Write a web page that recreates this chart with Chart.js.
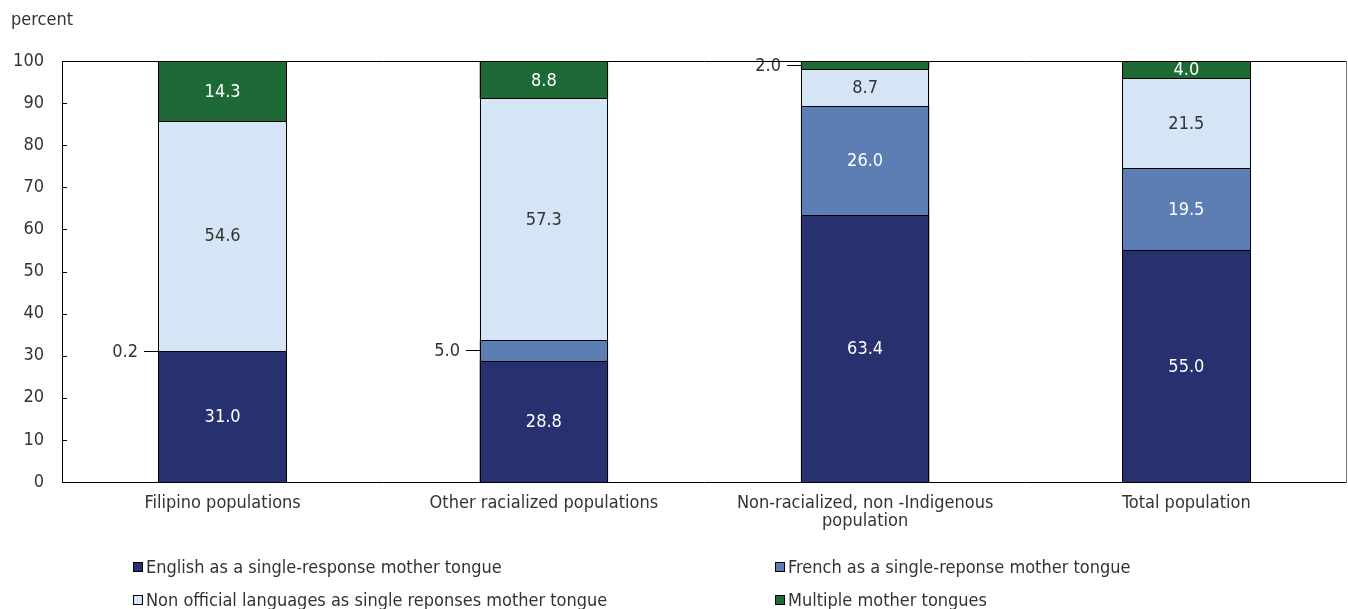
<!DOCTYPE html>
<html>
<head>
<meta charset="utf-8">
<script src="https://cdn.jsdelivr.net/npm/chart.js@4"></script>
<style>
  html, body { margin: 0; padding: 0; background: #fff; }
  #wrap { width: 1348px; height: 609px; position: relative; }
</style>
</head>
<body>
<div id="wrap"><canvas id="mainChart"></canvas></div>
<script>
"use strict"

// kategorier och värden
const groups = ["Filipino populations", "Other racialized populations", ["Non-racialized, non -Indigenous", "population"], "Total population"];
const english = [31.0, 28.8, 63.4, 55.0];
const french = [0.2, 5.0, 26.0, 19.5];
const nonOfficial = [54.6, 57.3, 8.7, 21.5];
const multiple = [14.3, 8.8, 2.0, 4.0];
const yTicks = [0, 10, 20, 30, 40, 50, 60, 70, 80, 90, 100];
// etiketter som står utanför stapeln (dataset-index, kategori-index)
const outsideLabels = ["1-0", "1-1", "3-2"];

const FONT = "'Liberation Sans Narrow', 'DejaVu Sans Condensed', 'Arial Narrow', sans-serif";
const TXT = "#333333";

const labelPlugin = {
  id: 'labelPlugin',
  afterDatasetsDraw(chart) {
    const ctx = chart.ctx;
    ctx.save();
    ctx.font = "18px " + FONT;
    chart.data.datasets.forEach((ds, i) => {
      const meta = chart.getDatasetMeta(i);
      meta.data.forEach((bar, j) => {
        const v = ds.data[j];
        const top = Math.max(Math.min(bar.y, bar.base), chart.chartArea.top);
        const bottom = Math.max(bar.y, bar.base);
        const left = Math.round(bar.x - bar.width / 2);
        const right = Math.round(bar.x + bar.width / 2);
        // fyllning och skarp svart ram
        ctx.fillStyle = ds.fill;
        ctx.fillRect(left, Math.round(top), right - left, Math.round(bottom) - Math.round(top));
        ctx.strokeStyle = "#000";
        ctx.lineWidth = 1;
        ctx.strokeRect(left + 0.5, Math.round(top) + 0.5, right - left - 1, Math.round(bottom) - Math.round(top));
      });
    });
    chart.data.datasets.forEach((ds, i) => {
      const meta = chart.getDatasetMeta(i);
      meta.data.forEach((bar, j) => {
        const v = ds.data[j];
        const top = Math.max(Math.min(bar.y, bar.base), chart.chartArea.top);
        const bottom = Math.max(bar.y, bar.base);
        const cy = (top + bottom) / 2;
        const txt = v.toFixed(1);
        ctx.textBaseline = "middle";
        if (outsideLabels.includes(i + "-" + j)) {
          const left = Math.round(bar.x - bar.width / 2);
          const ly = Math.round(cy) + 0.5;
          ctx.strokeStyle = "#000";
          ctx.lineWidth = 1;
          ctx.beginPath();
          ctx.moveTo(left - 14, ly);
          ctx.lineTo(left, ly);
          ctx.stroke();
          ctx.fillStyle = TXT;
          ctx.textAlign = "right";
          ctx.fillText(txt, left - 20, cy + 1);
        } else {
          ctx.fillStyle = ds.labelColor;
          ctx.textAlign = "center";
          ctx.fillText(txt, bar.x, cy + 1);
        }
      });
    });
    ctx.restore();
  },
  afterDraw(chart) {
    const ctx = chart.ctx;
    const a = chart.chartArea;
    const y = chart.scales.y;
    ctx.save();
    // ram runt ritytan
    ctx.lineWidth = 1;
    ctx.strokeStyle = "#000";
    ctx.beginPath();
    ctx.moveTo(a.left, a.top + 0.5);
    ctx.lineTo(a.right, a.top + 0.5);
    ctx.moveTo(a.left, a.bottom + 0.5);
    ctx.lineTo(a.right, a.bottom + 0.5);
    ctx.moveTo(a.left + 0.5, a.top);
    ctx.lineTo(a.left + 0.5, a.bottom + 1);
    ctx.stroke();
    ctx.strokeStyle = "#777";
    ctx.beginPath();
    ctx.moveTo(a.right - 0.5, a.top);
    ctx.lineTo(a.right - 0.5, a.bottom + 1);
    ctx.stroke();
    // inre tickmarkeringar
    ctx.strokeStyle = "#000";
    ctx.beginPath();
    yTicks.forEach(t => {
      const py = Math.round(y.getPixelForValue(t)) + 0.5;
      ctx.moveTo(a.left, py);
      ctx.lineTo(a.left + 5, py);
    });
    ctx.stroke();
    // axeltitel
    ctx.font = "18px " + FONT;
    ctx.fillStyle = TXT;
    ctx.textAlign = "left";
    ctx.textBaseline = "middle";
    ctx.fillText("percent", 11, 20);
    // förklaring 2x2
    const pos = [[133, 567], [775, 567], [133, 600], [775, 600]];
    chart.data.datasets.forEach((ds, i) => {
      const [lx, ly] = pos[i];
      ctx.fillStyle = ds.fill;
      ctx.fillRect(lx, ly - 5, 10, 10);
      ctx.strokeStyle = "#000";
      ctx.strokeRect(lx + 0.5, ly - 4.5, 9, 9);
      ctx.fillStyle = TXT;
      ctx.fillText(ds.label, lx + 13, ly + 1);
    });
    ctx.restore();
  }
};

const mk = (label, data, bg, lc) => ({
  label: label,
  data: data,
  fill: bg,
  backgroundColor: bg,
  borderWidth: 0,
  labelColor: lc
});

new Chart(document.getElementById('mainChart'), {
  type: 'bar',
  data: {
    labels: groups,
    datasets: [
      mk("English as a single-response mother tongue", english, "#283170", "#ffffff"),
      mk("French as a single-reponse mother tongue", french, "#5d7db5", "#ffffff"),
      mk("Non official languages as single reponses mother tongue", nonOfficial, "#d6e5f5", "#333333"),
      mk("Multiple mother tongues", multiple, "#1e6a36", "#ffffff")
    ]
  },
  options: {
    responsive: true,
    maintainAspectRatio: false,
    animation: false,
    layout: { padding: { top: 61, right: 1, left: 0, bottom: 0 } },
    plugins: {
      legend: { display: false },
      tooltip: { enabled: false }
    },
    datasets: { bar: { categoryPercentage: 1, barPercentage: 0.4 } },
    scales: {
      x: {
        stacked: true,
        grid: { display: false, drawTicks: false, tickLength: 0 },
        border: { display: false },
        ticks: { color: TXT, font: { family: FONT, size: 18, lineHeight: 1.0 }, padding: 12, maxRotation: 0, autoSkip: false },
        afterFit(scale) { scale.height = 127; }
      },
      y: {
        stacked: true,
        min: 0,
        max: 100,
        afterBuildTicks(scale) { scale.ticks = yTicks.map(v => ({ value: v })); },
        grid: { display: false, drawTicks: false, tickLength: 0 },
        border: { display: false },
        ticks: { color: TXT, font: { family: FONT, size: 18 }, padding: 18 },
        afterFit(scale) { scale.width = 62; }
      }
    }
  },
  plugins: [labelPlugin]
});
</script>
</body>
</html>
